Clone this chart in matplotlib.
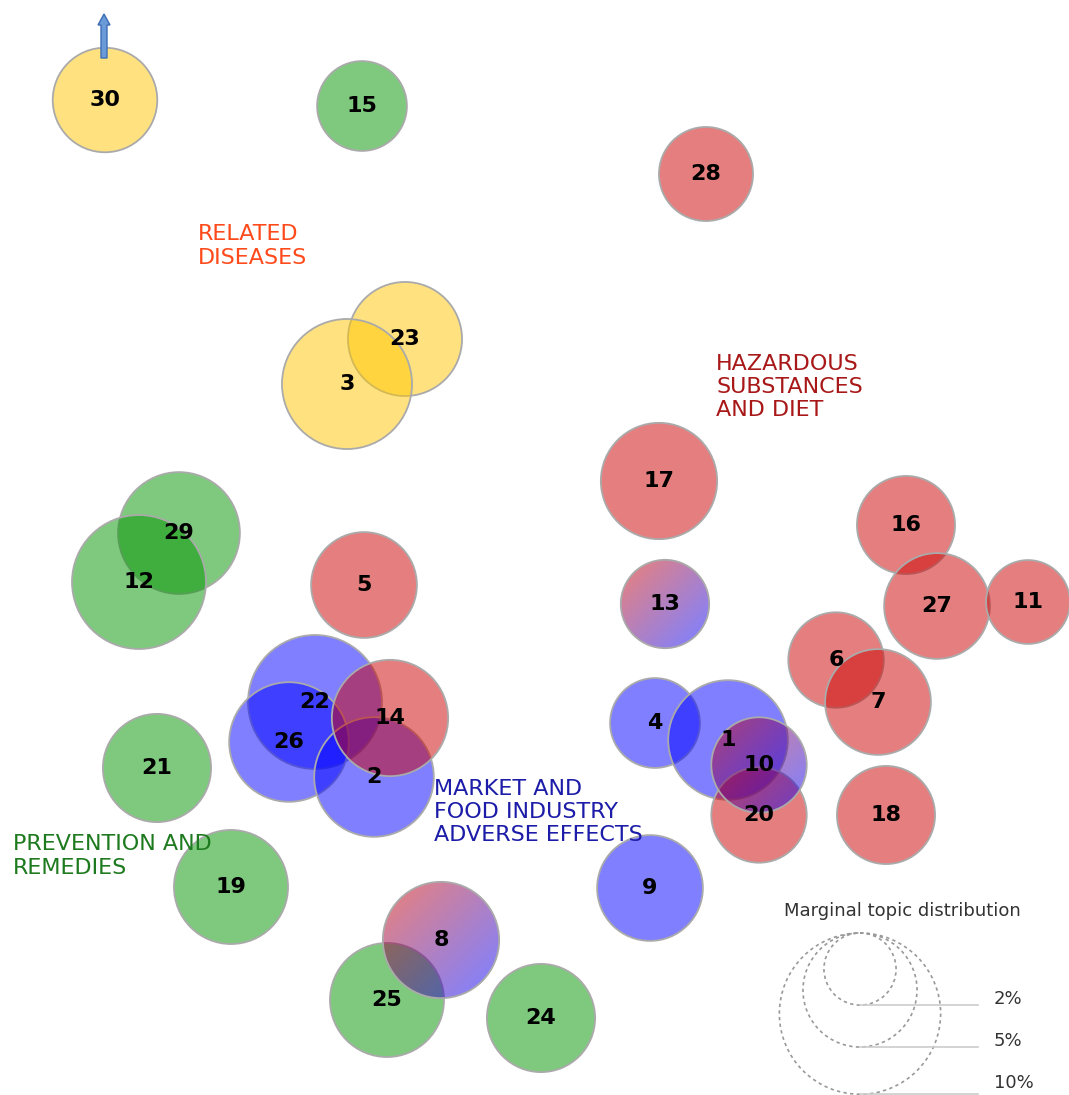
import numpy as np
import matplotlib
matplotlib.use("Agg")
import matplotlib.pyplot as plt
from matplotlib.patches import Circle, FancyArrow

# topic map: inter-topic distance projection (canvas units, y grows downwards)
# listed in drawing order (later topics sit on top)
topics = [30, 15, 28, 23, 3, 17, 29, 12, 5, 16, 13, 27, 11, 6, 7,
          22, 26, 2, 14, 4, 1, 20, 10, 21, 18, 9, 19, 25, 8, 24]
pc_x = [105, 362, 706, 405, 347, 659, 179, 139, 364, 906, 665, 937, 1028, 836, 878,
        315, 289, 374, 390, 655, 728, 759, 759, 157, 886, 650, 231, 387, 441, 541]
pc_y = [100, 106, 174, 339, 384, 481, 533, 582, 585, 525, 604, 606, 602, 660, 702,
        702, 742, 777, 718, 723, 740, 815, 765, 768, 815, 888, 887, 1000, 940, 1018]
# marginal topic distribution (%)
marginal = [4.2, 3.1, 3.4, 5.0, 6.5, 5.2, 5.7, 6.9, 4.3, 3.7, 3.0, 4.3, 2.7, 3.5, 4.3,
            6.9, 5.5, 5.5, 5.2, 3.1, 5.5, 3.5, 3.5, 4.5, 3.7, 4.3, 5.0, 5.0, 5.2, 4.5]
group = ['dis', 'prev', 'haz', 'dis', 'dis', 'haz', 'prev', 'prev', 'haz', 'haz', 'mix',
         'haz', 'haz', 'haz', 'haz', 'mkt', 'mkt', 'mkt', 'haz', 'mkt', 'mkt', 'haz',
         'mix', 'prev', 'haz', 'mkt', 'prev', 'prev', 'mix', 'prev']

legend_pct = [2, 5, 10]

colors = {'dis': (1.0, 0.78, 0.0), 'prev': (0.0, 0.58, 0.0),
          'haz': (0.80, 0.0, 0.0), 'mkt': (0.0, 0.0, 1.0)}
SCALE = 25.5  # radius per sqrt(%)
EDGE = '#aaaaaa'

fig = plt.figure(figsize=(10.69, 10.95), dpi=100)
ax = fig.add_axes([0, 0, 1, 1])
ax.set_xlim(0, 1069)
ax.set_ylim(1095, 0)
ax.axis('off')

for i, t in enumerate(topics):
    r = SCALE * np.sqrt(marginal[i])
    x, y = pc_x[i], pc_y[i]
    g = group[i]
    z = 2 + i * 0.01
    if g == 'mix':
        # red -> blue diagonal gradient
        n = 100
        u = np.linspace(0, 1, n)
        uu, vv = np.meshgrid(u, u)
        w = np.clip((uu + vv) / 2 * 1.15 - 0.07, 0, 1)[..., None]
        c1 = np.array(colors['haz'])
        c2 = np.array(colors['mkt'])
        img = np.concatenate([(1 - w) * c1 + w * c2, np.full((n, n, 1), 0.5)], axis=2)
        clip = Circle((x, y), r, transform=ax.transData, facecolor='none', edgecolor='none')
        ax.add_patch(clip)
        im = ax.imshow(img, extent=(x - r, x + r, y + r, y - r), origin='upper',
                       interpolation='bilinear', zorder=z)
        im.set_clip_path(clip)
    else:
        ax.add_patch(Circle((x, y), r, facecolor=colors[g], alpha=0.5,
                            edgecolor='none', zorder=z))
    ax.add_patch(Circle((x, y), r, facecolor='none', edgecolor=EDGE, lw=1.3, zorder=z + 0.005))

for i, t in enumerate(topics):
    ax.text(pc_x[i], pc_y[i], str(t), ha='center', va='center', fontsize=16,
            fontweight='bold', color='black', zorder=5)

# cluster annotations
ax.text(198, 246, 'RELATED\nDISEASES', color='#ff4a1c', fontsize=16,
        ha='left', va='center', linespacing=1.2)
ax.text(716, 387, 'HAZARDOUS\nSUBSTANCES\nAND DIET', color='#a81818', fontsize=16,
        ha='left', va='center', linespacing=1.2)
ax.text(434, 812, 'MARKET AND\nFOOD INDUSTRY\nADVERSE EFFECTS', color='#1c1ca8', fontsize=16,
        ha='left', va='center', linespacing=1.2)
ax.text(13, 856, 'PREVENTION AND\nREMEDIES', color='#1e7a1e', fontsize=16,
        ha='left', va='center', linespacing=1.2)

# arrow marking topic 30
ax.add_patch(FancyArrow(104, 58, 0, -33, width=6, head_width=12, head_length=11,
                        length_includes_head=False, facecolor='#6a9bd8',
                        edgecolor='#3d6db5', lw=1, zorder=6))

# marginal distribution legend
lx, ltop = 860, 933
ax.text(902, 911, 'Marginal topic distribution', ha='center', va='center',
        fontsize=13, color='#333333')
for p in legend_pct:
    r = SCALE * np.sqrt(p)
    cy = ltop + r
    ax.add_patch(Circle((lx, cy), r, facecolor='none', edgecolor='#999999',
                        lw=1.2, ls=(0, (2, 2))))
    ax.plot([lx, 978], [cy + r, cy + r], color='#cccccc', lw=1.2)
    ty = min(cy + r - 6, 1083)
    ax.text(994, ty, f'{p}%', ha='left', va='center', fontsize=13, color='#333333')

fig.savefig('out.png', dpi=100)
